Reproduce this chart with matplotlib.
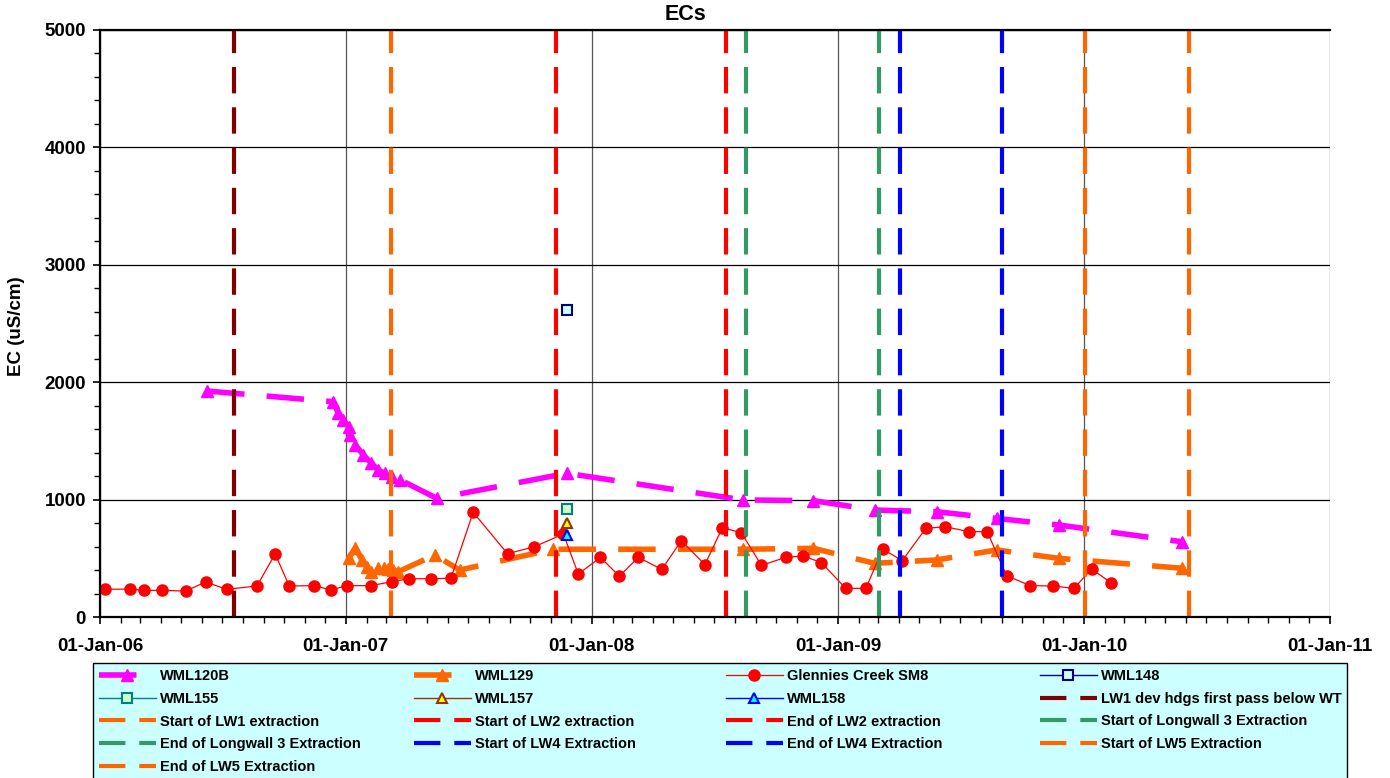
import numpy as np
import pandas as pd
import matplotlib
matplotlib.use("Agg")
import matplotlib.pyplot as plt
import matplotlib.dates as mdates
from matplotlib.patches import Rectangle
from matplotlib.ticker import MultipleLocator

plt.rcParams['font.family'] = ['Liberation Sans', 'DejaVu Sans']
plt.rcParams['font.weight'] = 'bold'
plt.rcParams['lines.scale_dashes'] = False

# --- data ---
wml120b_dates = ["2006-06-09", "2006-12-13", "2006-12-21", "2006-12-28", "2007-01-05",
                 "2007-01-07", "2007-01-15", "2007-01-27", "2007-02-08", "2007-02-18",
                 "2007-02-28", "2007-03-10", "2007-03-23", "2007-05-16", "2007-11-25",
                 "2008-08-13", "2008-11-25", "2009-02-24", "2009-05-27", "2009-08-24",
                 "2009-11-24", "2010-05-26"]
wml120b_ec = [1925, 1834, 1735, 1678, 1621, 1550, 1465, 1380, 1309, 1252, 1224, 1195,
              1167, 1011, 1224, 997, 991, 911, 897, 840, 784, 641]

wml129_dates = ["2007-01-05", "2007-01-15", "2007-01-25", "2007-02-01", "2007-02-08",
                "2007-02-18", "2007-02-26", "2007-03-05", "2007-03-12", "2007-03-20",
                "2007-05-13", "2007-06-19", "2007-11-05", "2008-08-13", "2008-11-25",
                "2009-02-24", "2009-05-27", "2009-08-24", "2009-11-24", "2010-05-27"]
wml129_ec = [500, 585, 486, 428, 386, 415, 415, 409, 400, 386, 528, 400, 577, 577, 585,
             457, 486, 571, 500, 415]

sm8_dates = ["2006-01-08", "2006-02-15", "2006-03-07", "2006-04-03", "2006-05-08",
             "2006-06-07", "2006-07-08", "2006-08-22", "2006-09-18", "2006-10-09",
             "2006-11-15", "2006-12-10", "2007-01-02", "2007-02-07", "2007-03-11",
             "2007-04-04", "2007-05-07", "2007-06-06", "2007-07-09", "2007-08-29",
             "2007-10-08", "2007-11-20", "2007-12-12", "2008-01-14", "2008-02-11",
             "2008-03-10", "2008-04-14", "2008-05-13", "2008-06-17", "2008-07-13",
             "2008-08-10", "2008-09-09", "2008-10-15", "2008-11-10", "2008-12-07",
             "2009-01-12", "2009-02-11", "2009-03-08", "2009-04-06", "2009-05-11",
             "2009-06-09", "2009-07-14", "2009-08-10", "2009-09-08", "2009-10-13",
             "2009-11-16", "2009-12-17", "2010-01-12", "2010-02-10"]
sm8_ec = [236, 238, 227, 227, 221, 298, 236, 264, 537, 264, 267, 230, 267, 267, 301,
          326, 326, 330, 892, 539, 599, 707, 366, 508, 347, 508, 406, 650, 446, 761,
          718, 440, 508, 520, 463, 244, 244, 579, 480, 755, 769, 727, 727, 352, 267,
          264, 244, 409, 292]

single_date = "2007-11-25"
wml148_ec = 2615
wml155_ec = 920
wml157_ec = 803
wml158_ec = 698

event_labels = ["LW1 dev hdgs first pass below WT", "Start of LW1 extraction",
                "Start of LW2 extraction", "End of LW2 extraction",
                "Start of Longwall 3 Extraction", "End of Longwall 3 Extraction",
                "Start of LW4 Extraction", "End of LW4 Extraction",
                "Start of LW5 Extraction", "End of LW5 Extraction"]
event_dates = ["2006-07-19", "2007-03-09", "2007-11-09", "2008-07-19", "2008-08-17",
               "2009-03-03", "2009-04-03", "2009-09-01", "2010-01-02", "2010-06-06"]
event_colors = ["#800000", "#FF6600", "#FF0000", "#FF0000", "#339966", "#339966",
                "#0000FF", "#0000FF", "#FF6600", "#FF6600"]

W, H = 1390, 778
fx = lambda px: px / W
fy = lambda py: 1 - py / H

fig = plt.figure(figsize=(13.9, 7.78), dpi=100)
ax = fig.add_axes([fx(100), fy(617), (1330 - 100) / W, (617 - 30) / H])

d = pd.to_datetime
ax.plot(d(wml120b_dates), wml120b_ec, color="#FF00FF", lw=4, dashes=(27, 16),
        marker="^", ms=8.5, label="WML120B")
ax.plot(d(wml129_dates), wml129_ec, color="#FF6600", lw=4, dashes=(27, 16),
        marker="^", ms=8.5, label="WML129")
ax.plot(d(sm8_dates), sm8_ec, color="#FF0000", lw=0.9, marker="o", ms=8,
        mfc="#FF0000", mec="#FF0000", label="Glennies Creek SM8")
ax.plot(d([single_date]), [wml148_ec], color="#000080", lw=1, marker="s", ms=7,
        mfc="#CCFFFF", mec="#000080", mew=1.5, label="WML148")
ax.plot(d([single_date]), [wml155_ec], color="#008080", lw=1, marker="s", ms=7,
        mfc="#CCFFCC", mec="#008080", mew=1.5, label="WML155")
ax.plot(d([single_date]), [wml157_ec], color="#993300", lw=1, marker="^", ms=7,
        mfc="#FFFF00", mec="#993300", mew=1.5, label="WML157")
ax.plot(d([single_date]), [wml158_ec], color="#0000FF", lw=1, marker="^", ms=7,
        mfc="#00FFFF", mec="#0000FF", mew=1.5, label="WML158")
for lab, dt, c in zip(event_labels, event_dates, event_colors):
    ax.plot(d([dt, dt]), [0, 5000], color=c, lw=3, dashes=(19, 10), label=lab)

ax.set_xlim(d("2006-01-01"), d("2011-01-01"))
ax.set_ylim(0, 5000)
ax.xaxis.set_major_locator(mdates.YearLocator())
ax.xaxis.set_minor_locator(mdates.MonthLocator())
ax.xaxis.set_major_formatter(mdates.DateFormatter("%d-%b-%y"))
ax.yaxis.set_major_locator(MultipleLocator(1000))
ax.yaxis.set_minor_locator(MultipleLocator(200))
ax.tick_params(which="major", direction="out", length=5, width=1.2, labelsize=13.5)
ax.tick_params(which="minor", direction="out", length=4, width=1)
ax.tick_params(axis="x", pad=10)
ax.tick_params(axis="y", pad=5)
ax.grid(True, which="major", axis="y", color="black", lw=0.9)
ax.grid(True, which="major", axis="x", color="#555555", lw=0.9)
ax.set_axisbelow(True)
for s in ["left", "bottom", "top"]:
    ax.spines[s].set_linewidth(1.6)
ax.spines["right"].set_visible(False)

fig.text(fx(686), fy(15), "ECs", ha="center", va="center", fontsize=15.5, fontweight="bold")
fig.text(fx(17), fy(326), "EC (uS/cm)", ha="center", va="center", rotation=90,
         fontsize=13.5, fontweight="bold")

# legend: light cyan box with 4 equal-width columns filled row by row
fig.add_artist(Rectangle((fx(93), fy(790)), (1347 - 93) / W, (790 - 663) / H,
                         transform=fig.transFigure, facecolor="#CCFFFF",
                         edgecolor="black", lw=1, zorder=0))
handles, labels = ax.get_legend_handles_labels()
col_x = [99, 414, 726, 1040]
for i, x0 in enumerate(col_x):
    fig.legend(handles[i::4], labels[i::4], loc="upper left",
               bbox_to_anchor=(fx(x0), fy(669)), frameon=False, numpoints=1,
               prop={"size": 10.5, "weight": "bold"}, handlelength=3.9,
               handletextpad=0.27, labelspacing=0.6, borderpad=0, borderaxespad=0)

fig.savefig("out.png", dpi=100)
